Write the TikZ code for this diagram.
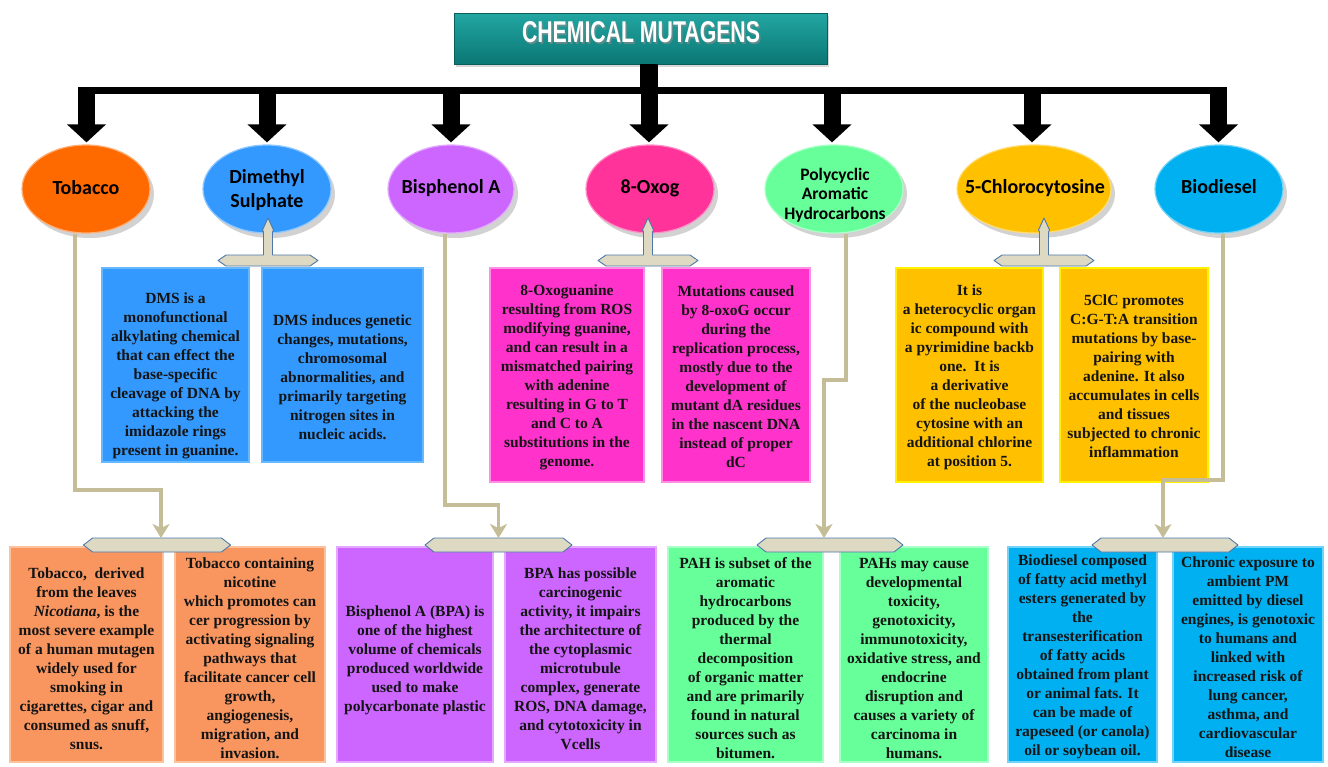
\documentclass[tikz,border=0pt]{standalone}
\usepackage{graphicx}
\usepackage{fontspec}
\setmainfont{Liberation Serif}
\newfontfamily\carlitofont{Carlito}
\newfontfamily\headfont{Liberation Sans}
\usetikzlibrary{shapes.geometric,arrows.meta,shadows,calc}

\definecolor{tealA}{HTML}{22A6A2}
\definecolor{tealB}{HTML}{0B7774}
\definecolor{tobC}{HTML}{FF6A00}
\definecolor{dmsC}{HTML}{3399FF}
\definecolor{bisC}{HTML}{CC66FF}
\definecolor{oxoC}{HTML}{FF3399}
\definecolor{pahC}{HTML}{66FF99}
\definecolor{chlC}{HTML}{FFC000}
\definecolor{bioC}{HTML}{00B0F0}
\definecolor{dmsBox}{HTML}{3399FF}
\definecolor{dmsEdge}{HTML}{66B8FF}
\definecolor{oxoBox}{HTML}{FF33CC}
\definecolor{oxoEdge}{HTML}{FF8FE3}
\definecolor{chlBox}{HTML}{FFC000}
\definecolor{chlEdge}{HTML}{FFF200}
\definecolor{tobBox}{HTML}{F99660}
\definecolor{tobEdge}{HTML}{FCC29C}
\definecolor{bisBox}{HTML}{CC66FF}
\definecolor{bisEdge}{HTML}{E3A8FF}
\definecolor{pahBox}{HTML}{66FF99}
\definecolor{pahEdge}{HTML}{A8FFC8}
\definecolor{bioBox}{HTML}{00B0F0}
\definecolor{bioEdge}{HTML}{70D4F8}
\definecolor{tanC}{HTML}{C4BD97}
\definecolor{banFill}{HTML}{DDD9C3}
\definecolor{banEdge}{HTML}{4F78A8}
\definecolor{inkC}{HTML}{141414}

\newcommand\hexbanner[3]{% center x, top y, half width
  \filldraw[banstyle] ({#1-#3},{#2+7}) -- ({#1-#3+9},#2) -- ({#1+#3-9},#2) -- ({#1+#3},{#2+7}) -- ({#1+#3-9},{#2+14}) -- ({#1-#3+9},{#2+14}) -- cycle;}
\newcommand\upcallout[1]{% center x
  \filldraw[banstyle] ({#1},218) -- ({#1+5.5},230) -- ({#1+4.5},232) -- ({#1+4.5},255) -- ({#1+42},255) -- ({#1+50},260.5) -- ({#1+42},266) -- ({#1-42},266) -- ({#1-50},260.5) -- ({#1-42},255) -- ({#1-4.5},255) -- ({#1-4.5},232) -- ({#1-5.5},230) -- cycle;}

\begin{document}
\begin{tikzpicture}[x=1pt,y=-1pt,
  ell/.style={ellipse, inner sep=0pt, minimum height=88pt, fill=#1, draw=#1!55!white, line width=1.2pt,
     drop shadow={opacity=0.35, shadow xshift=4pt, shadow yshift=-5pt}},
  elltext/.style={font=\carlitofont\bfseries\fontsize{20}{24}\selectfont, align=center, text=black, inner sep=0pt},
  box/.style 2 args={rectangle, inner sep=0pt, fill=#1, draw=#2, line width=2.5pt},
  btext/.style={font=\bfseries\fontsize{15.5}{19}\selectfont, align=center, text=inkC, inner sep=0pt},
  blockarrow/.style={line width=17pt, -{Triangle[length=18pt,width=38pt]}, shorten >=2pt},
  tanline/.style={draw=tanC, line width=3.5pt, -{Stealth[length=14pt,width=17pt,inset=4pt]}},
  banstyle/.style={fill=banFill, draw=banEdge, line width=0.9pt, line join=round},
]
\useasboundingbox (0,0) rectangle (1328,766);
\fill[white] (0,0) rectangle (1328,766);

% ---------- title ----------
\node[rectangle, minimum width=373pt, minimum height=51pt, inner sep=0pt,
      top color=tealA, bottom color=tealB, draw=tealB!80!black, line width=0.6pt,
      drop shadow={opacity=0.3, shadow xshift=2pt, shadow yshift=-3pt}] (title) at (640.5,38.5) {};
\node[inner sep=0pt, text=black!45, opacity=0.6] (titleshadow) at (642.5,34.5) {\resizebox{238pt}{21pt}{\headfont\bfseries CHEMICAL MUTAGENS}};
\node[inner sep=0pt, text=white] (titletext) at (641,32.5) {\resizebox{238pt}{21pt}{\headfont\bfseries CHEMICAL MUTAGENS}};

% ---------- ellipses ----------
\node[ell=tobC, minimum width=128pt] (tob) at (86,189) {};
\node[ell=dmsC, minimum width=128pt] (dms) at (267,189) {};
\node[ell=bisC, minimum width=126pt] (bis) at (451,189) {};
\node[ell=oxoC, minimum width=128pt] (oxo) at (650,189) {};
\node[ell=pahC, minimum width=138pt] (pah) at (834,189) {};
\node[ell=chlC, minimum width=154pt] (chl) at (1034,189) {};
\node[ell=bioC, minimum width=128pt] (bio) at (1219,189) {};

\node[elltext] (tobT) at (86,188) {Tobacco};
\node[elltext] (dmsT) at (267,190) {Dimethyl\\Sulphate};
\node[elltext] (bisT) at (451,188) {Bisphenol A};
\node[elltext] (oxoT) at (650,188) {8-Oxog};
\node[elltext, font=\carlitofont\bfseries\fontsize{17.5}{19.5}\selectfont] (pahT) at (835,195) {Polycyclic\\Aromatic\\Hydrocarbons};
\node[elltext] (chlT) at (1035,188) {5-Chlorocytosine};
\node[elltext] (bioT) at (1219,187) {Biodiesel};

% ---------- stem, bar and block arrows ----------
\coordinate (hub) at (649,90);
\draw[line width=18pt] (title.south -| hub) -- (hub);
\draw[line width=7pt] (78,90) -- (1227,90);
\coordinate (b1) at (86.5,90);
\coordinate (b2) at (267,90);
\coordinate (b3) at (451,90);
\coordinate (b4) at (649,90);
\coordinate (b5) at (832,90);
\coordinate (b6) at (1032,90);
\coordinate (b7) at (1218.5,90);
\draw[blockarrow] (b1) -- (b1 |- tob.north);
\draw[blockarrow] (b2) -- (b2 |- dms.north);
\draw[blockarrow] (b3) -- (b3 |- bis.north);
\draw[blockarrow] (b4) -- (b4 |- oxo.north);
\draw[blockarrow] (b5) -- (b5 |- pah.north);
\draw[blockarrow] (b6) -- (b6 |- chl.north);
\draw[blockarrow] (b7) -- (b7 |- bio.north);

% ---------- upper boxes ----------
\node[box={dmsBox}{dmsEdge}, minimum width=147pt, minimum height=194pt] (dms1) at (175.5,365) {};
\node[box={dmsBox}{dmsEdge}, minimum width=161pt, minimum height=194pt] (dms2) at (342.5,365) {};
\node[box={oxoBox}{oxoEdge}, minimum width=154pt, minimum height=214pt] (oxo1) at (567,375) {};
\node[box={oxoBox}{oxoEdge}, minimum width=148pt, minimum height=214pt] (oxo2) at (736,375) {};
\node[box={chlBox}{chlEdge}, minimum width=147pt, minimum height=214pt] (chl1) at (969.5,375) {};
\node[box={chlBox}{chlEdge}, minimum width=148pt, minimum height=214pt] (chl2) at (1134,375) {};

\node[btext] (dms1T) at (175.5,376) {DMS is a\\monofunctional\\alkylating chemical\\that can effect the\\base-specific\\cleavage of DNA by\\attacking the\\imidazole rings\\present in guanine.};
\node[btext] (dms2T) at (342.5,377) {DMS induces genetic\\changes, mutations,\\chromosomal\\abnormalities, and\\primarily targeting\\nitrogen sites in\\nucleic acids.};
\node[btext] (oxo1T) at (567,377) {8-Oxoguanine\\resulting from ROS\\modifying guanine,\\and can result in a\\mismatched pairing\\with adenine\\resulting in G to T\\and C to A\\substitutions in the\\genome.};
\node[btext] (oxo2T) at (736,377) {Mutations caused\\by 8-oxoG occur\\during the\\replication process,\\mostly due to the\\development of\\mutant dA residues\\in the nascent DNA\\instead of proper\\dC};
\node[btext] (chl1T) at (969.5,377) {It is\\a heterocyclic organ\\ic compound with\\a pyrimidine backb\\one.\ \ It is\\a derivative\\of the nucleobase\\cytosine with an\\additional chlorine\\at position 5.};
\node[btext] (chl2T) at (1134,376) {5ClC promotes\\C:G-T:A transition\\mutations by base-\\pairing with\\adenine. It also\\accumulates in cells\\and tissues\\subjected to chronic\\inflammation};

% ---------- lower boxes ----------
\node[box={tobBox}{tobEdge}, minimum width=153pt, minimum height=215pt] (tob1) at (86.5,654.5) {};
\node[box={tobBox}{tobEdge}, minimum width=150pt, minimum height=215pt] (tob2) at (250,654.5) {};
\node[box={bisBox}{bisEdge}, minimum width=156pt, minimum height=215pt] (bis1) at (415,654.5) {};
\node[box={bisBox}{bisEdge}, minimum width=151pt, minimum height=215pt] (bis2) at (580.5,654.5) {};
\node[box={pahBox}{pahEdge}, minimum width=155pt, minimum height=215pt] (pah1) at (745.5,654.5) {};
\node[box={pahBox}{pahEdge}, minimum width=148pt, minimum height=215pt] (pah2) at (914,654.5) {};
\node[box={bioBox}{bioEdge}, minimum width=149pt, minimum height=215pt] (bio1) at (1082.5,654.5) {};
\node[box={bioBox}{bioEdge}, minimum width=150pt, minimum height=215pt] (bio2) at (1248,654.5) {};

\node[btext] (tob1T) at (86.5,658.5) {Tobacco,\ \ derived\\from the leaves\\\textit{Nicotiana}, is the\\most severe example\\of a human mutagen\\widely used for\\smoking in\\cigarettes, cigar and\\consumed as snuff,\\snus.};
\node[btext] (tob2T) at (250,658) {Tobacco containing\\nicotine\\which promotes can\\cer progression by\\activating signaling\\pathways that\\facilitate cancer cell\\growth,\\angiogenesis,\\migration, and\\invasion.};
\node[btext] (bis1T) at (415,660) {Bisphenol A (BPA) is\\one of the highest\\volume of chemicals\\produced worldwide\\used to make\\polycarbonate plastic};
\node[btext] (bis2T) at (580.5,658.5) {BPA has possible\\carcinogenic\\activity, it impairs\\the architecture of\\the cytoplasmic\\microtubule\\complex, generate\\ROS, DNA damage,\\and cytotoxicity in\\Vcells};
\node[btext] (pah1T) at (745.5,658) {PAH is subset of the\\aromatic\\hydrocarbons\\produced by the\\thermal\\decomposition\\of organic matter\\and are primarily\\found in natural\\sources such as\\bitumen.};
\node[btext] (pah2T) at (914,658) {PAHs may cause\\developmental\\toxicity,\\genotoxicity,\\immunotoxicity,\\oxidative stress, and\\endocrine\\disruption and\\causes a variety of\\carcinoma in\\humans.};
\node[btext] (bio1T) at (1082.5,657) {Biodiesel composed\\of fatty acid methyl\\esters generated by\\the\\transesterification\\of fatty acids\\obtained from plant\\or animal fats. It\\can be made of\\rapeseed (or canola)\\oil or soybean oil.};
\node[btext] (bio2T) at (1248,657) {Chronic exposure to\\ambient PM\\emitted by diesel\\engines, is genotoxic\\to humans and\\linked with\\increased risk of\\lung cancer,\\asthma, and\\cardiovascular\\disease};

% ---------- banners ----------
\upcallout{268}
\upcallout{648}
\upcallout{1044}
\hexbanner{157}{538}{73.5}
\hexbanner{498.5}{538}{73.5}
\hexbanner{830}{538}{73}
\hexbanner{1165}{538}{73}
\coordinate (ban1) at (161,538);
\coordinate (ban2) at (498.5,538);
\coordinate (ban3) at (824,538);
\coordinate (ban4) at (1163,538);

% ---------- tan connectors ----------
\coordinate (k1) at (161,490);
\coordinate (k2) at (498.5,505);
\coordinate (k3) at (824,380);
\coordinate (k4) at (1163,480);
\draw[tanline] ([xshift=-11pt]tob.south) |- (k1) -- (ban1);
\draw[tanline] ([xshift=-6pt]bis.south) |- (k2) -- (ban2);
\draw[tanline] ([xshift=12pt]pah.south) |- (k3) -- (ban3);
\draw[tanline] ([xshift=4pt]bio.south) |- (k4) -- (ban4);
\end{tikzpicture}
\end{document}
